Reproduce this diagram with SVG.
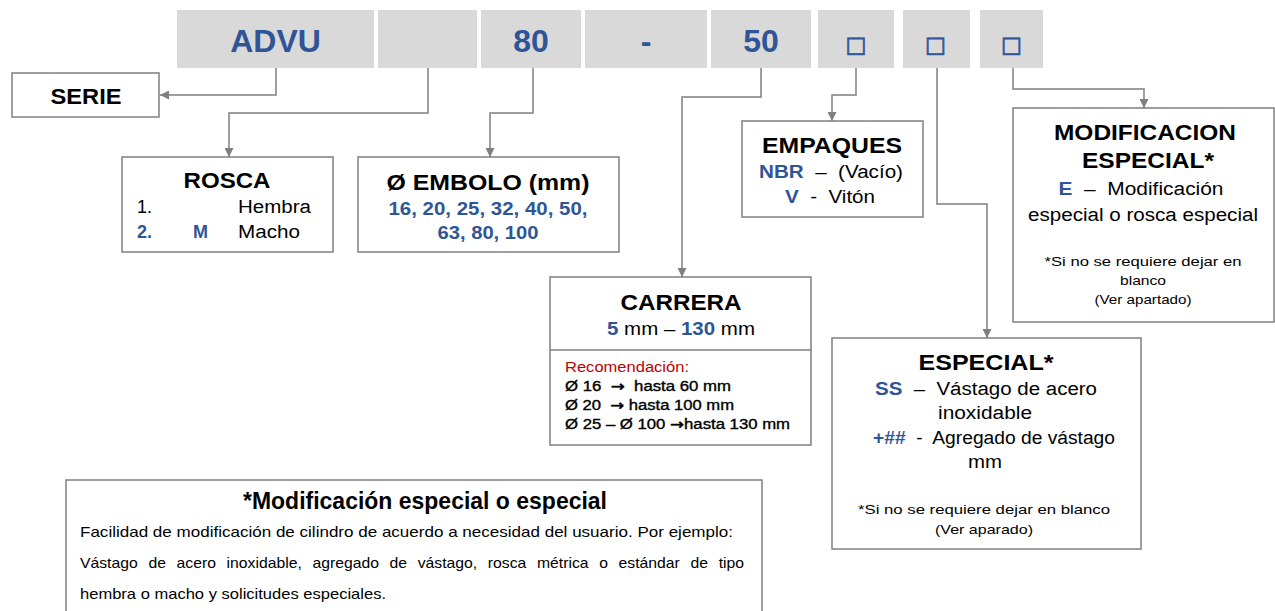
<svg xmlns="http://www.w3.org/2000/svg" width="1275" height="611" viewBox="0 0 1275 611">
<style>
text{font-family:"Liberation Sans",Arial,"DejaVu Sans",sans-serif;fill:#000}
.cell{fill:#D9D9D9}
.box{fill:#fff;stroke:#7F7F7F;stroke-width:1.5}
.conn{fill:none;stroke:#7F7F7F;stroke-width:1.5}
.code{font-size:32px;font-weight:bold;fill:#2F5597;text-anchor:middle}
.sq{font-family:"DejaVu Sans",sans-serif;font-size:22px;fill:#2F5597;stroke:#2F5597;stroke-width:0.7;text-anchor:middle}
.ttl{font-size:22px;font-weight:bold;text-anchor:middle}
.txt{font-size:18px}
.mid{text-anchor:middle}
.bl{fill:#2F5597;font-weight:bold}
.sm{font-size:14px}
.smb{font-size:14px;fill:#000;stroke:#000;stroke-width:0.35}
.arr{font-family:"DejaVu Sans",sans-serif;font-weight:bold}
.note{font-size:13px;text-anchor:middle}
.red{fill:#C00000}
.body{font-size:15px}
</style>
<defs>
<marker id="ah" viewBox="0 0 10 10" refX="10" refY="5" markerWidth="9" markerHeight="9" markerUnits="userSpaceOnUse" orient="auto">
<path d="M0,0 L10,5 L0,10 z" fill="#7F7F7F"/>
</marker>
</defs>

<g id="code-row">
<rect class="cell" x="177" y="10" width="197" height="58"/>
<rect class="cell" x="378" y="10" width="99" height="58"/>
<rect class="cell" x="481" y="10" width="100" height="58"/>
<rect class="cell" x="585" y="10" width="122" height="58"/>
<rect class="cell" x="711" y="10" width="100" height="58"/>
<rect class="cell" x="818" y="10" width="76" height="58"/>
<rect class="cell" x="903" y="10" width="67" height="58"/>
<rect class="cell" x="980" y="10" width="63" height="58"/>
<text class="code" x="275.5" y="52">ADVU</text>
<text class="code" x="531" y="52">80</text>
<text class="code" x="646" y="52">-</text>
<text class="code" x="761" y="52">50</text>
<text class="sq" x="856" y="52">□</text>
<text class="sq" x="935.5" y="52">□</text>
<text class="sq" x="1011.5" y="52">□</text>
</g>

<g id="connectors">
<path class="conn" d="M276,68 V95 H160" marker-end="url(#ah)"/>
<path class="conn" d="M428,68 V113 H229 V157" marker-end="url(#ah)"/>
<path class="conn" d="M533,68 V113 H490 V157" marker-end="url(#ah)"/>
<path class="conn" d="M761,68 V97 H682 V277" marker-end="url(#ah)"/>
<path class="conn" d="M856,68 V95 H832 V121" marker-end="url(#ah)"/>
<path class="conn" d="M937,68 V204 H987 V338" marker-end="url(#ah)"/>
<path class="conn" d="M1013,68 V89 H1144 V108" marker-end="url(#ah)"/>
</g>

<g id="serie">
<rect class="box" x="12" y="73" width="147" height="44"/>
<text class="ttl" x="86" y="104" textLength="71" lengthAdjust="spacingAndGlyphs">SERIE</text>
</g>

<g id="rosca">
<rect class="box" x="122" y="157" width="211" height="95"/>
<text class="ttl" x="227" y="188" textLength="87" lengthAdjust="spacingAndGlyphs">ROSCA</text>
<text class="txt" x="137" y="213">1.</text>
<text class="txt" x="238" y="213" textLength="73" lengthAdjust="spacingAndGlyphs">Hembra</text>
<text class="txt bl" x="137" y="238">2.</text>
<text class="txt bl" x="193" y="238">M</text>
<text class="txt" x="238" y="238" textLength="62" lengthAdjust="spacingAndGlyphs">Macho</text>
</g>

<g id="embolo">
<rect class="box" x="358" y="157" width="261" height="95"/>
<text class="ttl" x="488" y="190" textLength="203" lengthAdjust="spacingAndGlyphs">Ø EMBOLO (mm)</text>
<text class="txt mid bl" x="488" y="215" textLength="199" lengthAdjust="spacingAndGlyphs">16, 20, 25, 32, 40, 50,</text>
<text class="txt mid bl" x="488" y="239" textLength="101" lengthAdjust="spacingAndGlyphs">63, 80, 100</text>
</g>

<g id="empaques">
<rect class="box" x="742" y="121" width="181" height="96"/>
<text class="ttl" x="832" y="153" textLength="140" lengthAdjust="spacingAndGlyphs">EMPAQUES</text>
<text class="txt mid" x="831" y="178" textLength="144" lengthAdjust="spacingAndGlyphs"><tspan class="bl">NBR</tspan>&#160; –&#160; (Vacío)</text>
<text class="txt mid" x="830" y="203" textLength="90" lengthAdjust="spacingAndGlyphs"><tspan class="bl">V</tspan>&#160; -&#160; Vitón</text>
</g>

<g id="carrera">
<rect class="box" x="550" y="277" width="261" height="168"/>
<line x1="550" y1="350" x2="811" y2="350" stroke="#7F7F7F" stroke-width="1.5"/>
<text class="ttl" x="681" y="310" textLength="121" lengthAdjust="spacingAndGlyphs">CARRERA</text>
<text class="txt mid" x="681" y="335" textLength="148" lengthAdjust="spacingAndGlyphs"><tspan class="bl">5</tspan> mm – <tspan class="bl">130</tspan> mm</text>
<text class="sm red" x="565" y="372" textLength="124" lengthAdjust="spacingAndGlyphs">Recomendación:</text>
<text class="smb" x="565" y="391" textLength="166" lengthAdjust="spacingAndGlyphs">Ø 16&#160; <tspan class="arr">→</tspan>&#160; hasta 60 mm</text>
<text class="smb" x="565" y="410" textLength="169" lengthAdjust="spacingAndGlyphs">Ø 20&#160; <tspan class="arr">→</tspan> hasta 100 mm</text>
<text class="smb" x="565" y="429" textLength="225" lengthAdjust="spacingAndGlyphs">Ø 25 – Ø 100 <tspan class="arr">→</tspan>hasta 130 mm</text>
</g>

<g id="modificacion">
<rect class="box" x="1013" y="108" width="261" height="214"/>
<text class="ttl" x="1145" y="140" textLength="182" lengthAdjust="spacingAndGlyphs">MODIFICACION</text>
<text class="ttl" x="1148" y="168" textLength="132" lengthAdjust="spacingAndGlyphs">ESPECIAL*</text>
<text class="txt mid" x="1141" y="195" textLength="165" lengthAdjust="spacingAndGlyphs"><tspan class="bl">E</tspan>&#160; –&#160; Modificación</text>
<text class="txt mid" x="1143" y="221" textLength="230" lengthAdjust="spacingAndGlyphs">especial o rosca especial</text>
<text class="note" x="1143" y="266" textLength="197" lengthAdjust="spacingAndGlyphs">*Si no se requiere dejar en</text>
<text class="note" x="1143" y="285" textLength="46" lengthAdjust="spacingAndGlyphs">blanco</text>
<text class="note" x="1143" y="304" textLength="97" lengthAdjust="spacingAndGlyphs">(Ver apartado)</text>
</g>

<g id="especial">
<rect class="box" x="832" y="338" width="309" height="211"/>
<text class="ttl" x="986" y="370" textLength="135" lengthAdjust="spacingAndGlyphs">ESPECIAL*</text>
<text class="txt mid" x="986" y="395" textLength="222" lengthAdjust="spacingAndGlyphs"><tspan class="bl">SS</tspan>&#160; –&#160; Vástago de acero</text>
<text class="txt mid" x="985" y="419" textLength="94" lengthAdjust="spacingAndGlyphs">inoxidable</text>
<text class="txt mid" x="994" y="444" textLength="242" lengthAdjust="spacingAndGlyphs"><tspan class="bl">+##</tspan>&#160; -&#160; Agregado de vástago</text>
<text class="txt mid" x="985" y="468" textLength="34" lengthAdjust="spacingAndGlyphs">mm</text>
<text class="note" x="984" y="514" textLength="252" lengthAdjust="spacingAndGlyphs">*Si no se requiere dejar en blanco</text>
<text class="note" x="984" y="534" textLength="98" lengthAdjust="spacingAndGlyphs">(Ver aparado)</text>
</g>

<g id="nota">
<rect class="box" x="66" y="480" width="696" height="140"/>
<text x="425" y="509" font-size="24" font-weight="bold" text-anchor="middle" textLength="364" lengthAdjust="spacingAndGlyphs">*Modificación especial o especial</text>
<text class="body" x="80" y="537" textLength="653" lengthAdjust="spacingAndGlyphs">Facilidad de modificación de cilindro de acuerdo a necesidad del usuario. Por ejemplo:</text>
<text class="body" x="80" y="568" word-spacing="6" textLength="664" lengthAdjust="spacingAndGlyphs">Vástago de acero inoxidable, agregado de vástago, rosca métrica o estándar de tipo</text>
<text class="body" x="80" y="599" textLength="306" lengthAdjust="spacingAndGlyphs">hembra o macho y solicitudes especiales.</text>
</g>
</svg>
